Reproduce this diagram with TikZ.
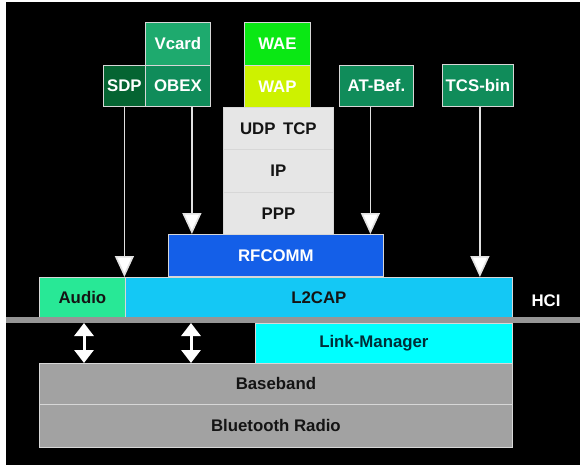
\documentclass[tikz,border=0pt]{standalone}
\usepackage{fontspec}
\setmainfont{Liberation Sans}
\usetikzlibrary{arrows.meta}
\definecolor{cSDP}{RGB}{5,100,50}
\definecolor{cOBEX}{RGB}{16,140,90}
\definecolor{cVcard}{RGB}{30,170,110}
\definecolor{cWAE}{RGB}{10,232,20}
\definecolor{cWAP}{RGB}{205,242,0}
\definecolor{cLight}{RGB}{230,230,230}
\definecolor{cRF}{RGB}{20,95,232}
\definecolor{cAudio}{RGB}{40,232,150}
\definecolor{cL2}{RGB}{20,200,245}
\definecolor{cLM}{RGB}{0,255,255}
\definecolor{cBase}{RGB}{162,162,162}
\definecolor{cBar}{RGB}{150,150,150}
\definecolor{cEdge}{RGB}{215,215,215}
\definecolor{cLine}{RGB}{225,225,225}
\definecolor{cLMtext}{RGB}{0,45,55}
\definecolor{cDark}{RGB}{20,20,20}
\begin{document}
\begin{tikzpicture}[x=1pt,y=-1pt,
  box/.style={draw=cEdge, line width=0.8pt, anchor=north west, inner sep=0pt,
    font=\fontsize{16.8}{18}\selectfont\bfseries},
  wtext/.style={text=white},
  btext/.style={text=cDark},
  arr/.style={draw=cLine, line width=1.6pt, -{Triangle[width=19pt,length=21pt,fill=white]}},
  darr/.style={draw=white, line width=3pt, {Triangle[width=19pt,length=13pt]}-{Triangle[width=19pt,length=13pt]}}
]
\useasboundingbox (0,0) rectangle (580,465);
\fill[white] (0,0) rectangle (580,465);
\fill[black] (6,2) rectangle (580,465);

% top application boxes
\node[box, wtext, fill=cVcard, minimum width=65pt, minimum height=43pt] (vcard) at (145,22) {Vcard};
\node[box, wtext, fill=cSDP, minimum width=42pt, minimum height=41pt] (sdp) at (103,65) {SDP};
\node[box, wtext, fill=cOBEX, minimum width=65pt, minimum height=41pt] (obex) at (145,65) {OBEX};
\node[box, wtext, fill=cWAE, minimum width=66pt, minimum height=43pt] (wae) at (244,22) {WAE};
\node[box, wtext, fill=cWAP, minimum width=66pt, minimum height=42pt] (wap) at (244,65) {WAP};
\node[box, wtext, fill=cOBEX, minimum width=74pt, minimum height=41pt] (at) at (339,65) {AT-Bef.};
\node[box, wtext, fill=cOBEX, minimum width=71pt, minimum height=42pt] (tcs) at (442,64) {TCS-bin};

% internet stack
\node[box, btext, fill=cLight, minimum width=110pt, minimum height=42pt] (udp) at (223,107) {UDP\hspace{0.45em}TCP};
\node[box, btext, fill=cLight, minimum width=110pt, minimum height=43pt] (ip) at (223,149) {IP};
\node[box, btext, fill=cLight, minimum width=110pt, minimum height=42pt] (ppp) at (223,192) {PPP};

% RFCOMM, L2CAP, Audio
\node[box, wtext, fill=cRF, minimum width=215pt, minimum height=42pt] (rf) at (168,234) {RFCOMM};
\node[box, btext, fill=cAudio, minimum width=86pt, minimum height=40pt] (audio) at (39,277) {Audio};
\node[box, btext, fill=cL2, minimum width=387pt, minimum height=40pt] (l2) at (125,277) {L2CAP};

% HCI bar
\node[fill=cBar, draw=none, anchor=north west, inner sep=0pt, minimum width=574pt, minimum height=6pt] (bar) at (6,317) {};
\node[font=\fontsize{16.8}{18}\selectfont\bfseries, text=white] (hci) at (546,301) {HCI};

% lower layers
\node[box, text=cLMtext, fill=cLM, minimum width=257pt, minimum height=40pt] (lm) at (255,323) {\hspace{-20pt}Link-Manager};
\node[box, btext, fill=cBase, minimum width=473pt, minimum height=41pt] (bb) at (39,363) {Baseband};
\node[box, btext, fill=cBase, minimum width=473pt, minimum height=43pt] (radio) at (39,404) {Bluetooth Radio};

% connectors
\draw[arr] (sdp.south) -- (sdp.south |- l2.north);
\coordinate (obexout) at ([xshift=14pt]obex.south);
\draw[arr] (obexout) -- (obexout |- rf.north);
\coordinate (atout) at ([xshift=-6pt]at.south);
\draw[arr] (atout) -- (atout |- rf.north);
\coordinate (tcsout) at ([xshift=2pt]tcs.south);
\draw[arr] (tcsout) -- (tcsout |- l2.north);

\coordinate (d1) at (84,323);
\coordinate (d2) at (191,323);
\draw[darr] (d1) -- (d1 |- bb.north);
\draw[darr] (d2) -- (d2 |- bb.north);
\end{tikzpicture}
\end{document}
